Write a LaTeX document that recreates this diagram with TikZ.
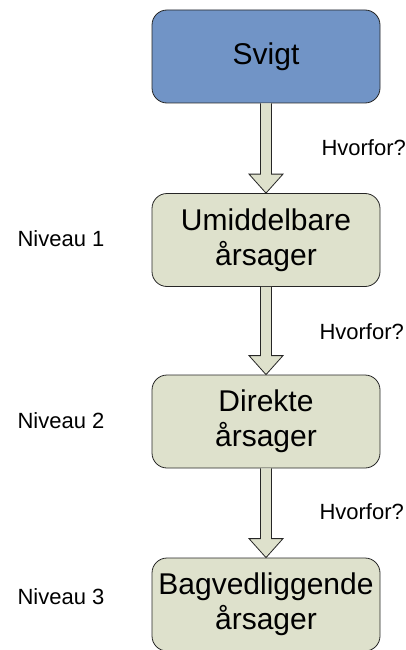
\documentclass[tikz,border=0pt]{standalone}
\usepackage{fontspec}
\setmainfont{Liberation Sans}
\usepackage{tikz}
\usetikzlibrary{calc}

\definecolor{svigtblaa}{HTML}{7194C6}
\definecolor{aarsaggroen}{HTML}{DEE1CC}

\tikzset{
	boks/.style={rectangle, rounded corners=15pt, draw=black!85, line width=0.8pt,
		minimum width=228pt, minimum height=93pt, align=center, inner sep=0pt,
		font=\fontsize{30}{35}\selectfont},
	niveau/.style={anchor=west, font=\fontsize{22}{26}\selectfont},
	spoerg/.style={anchor=west, font=\fontsize{22}{26}\selectfont},
	pil/.style={fill=aarsaggroen, draw=black!85, line width=0.8pt, line join=miter}
}

% blokpil fra bunden af en boks til toppen af den naeste
\newcommand{\blokpil}[2]{%
	\draw[pil] ($(#1.south)+(-5.5,0)$) -- ($(#2.north)+(-5.5,19)$) -- ($(#2.north)+(-17,19)$)
		-- (#2.north) -- ($(#2.north)+(17,19)$) -- ($(#2.north)+(5.5,19)$) -- ($(#1.south)+(5.5,0)$);
}

\begin{document}
\begin{tikzpicture}[x=1pt,y=1pt]
		\useasboundingbox (0,0) rectangle (406,-650);
		\node[boks, fill=svigtblaa] (svigt) at (266,-56.5) {Svigt};
		\node[boks, fill=aarsaggroen] (umiddelbar) at (266,-240) {Umiddelbare\\årsager};
		\node[boks, fill=aarsaggroen] (direkte) at (266,-421.5) {Direkte\\årsager};
		\node[boks, fill=aarsaggroen] (bagved) at (266,-604.5) {Bagvedliggende\\årsager};
		\blokpil{svigt}{umiddelbar}
		\blokpil{umiddelbar}{direkte}
		\blokpil{direkte}{bagved}
		\node[spoerg] (hvorfor1) at (318,-148) {Hvorfor?};
		\node[spoerg] (hvorfor2) at (316,-332) {Hvorfor?};
		\node[spoerg] (hvorfor3) at (316,-512) {Hvorfor?};
		\foreach \n/\y in {1/-239, 2/-421, 3/-597} {
		\node[niveau] (niveau\n) at (14,\y) {Niveau \n};
		}
	\end{tikzpicture}
\end{document}
